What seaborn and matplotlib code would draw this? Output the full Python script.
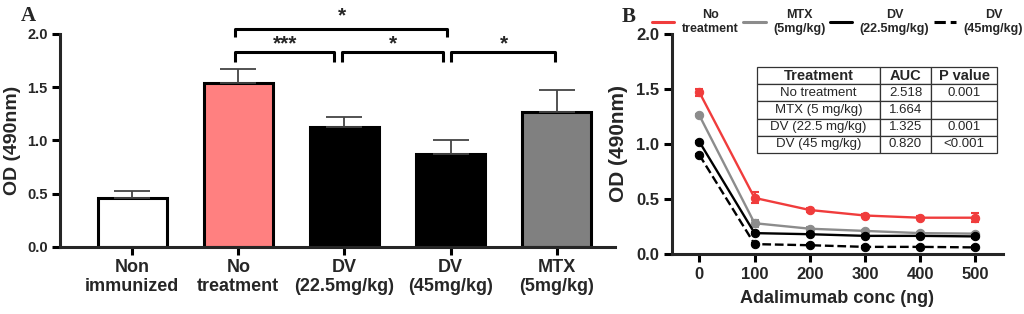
import numpy as np
import pandas as pd
import matplotlib
matplotlib.use("Agg")
import matplotlib.pyplot as plt
from matplotlib.lines import Line2D
import seaborn as sns

# Panel A: bar chart
groups = ["Non\nimmunized", "No\ntreatment", "DV\n(22.5mg/kg)", "DV\n(45mg/kg)", "MTX\n(5mg/kg)"]
bar_means = [0.46, 1.54, 1.13, 0.875, 1.27]
bar_err = [0.06, 0.13, 0.09, 0.125, 0.20]
bar_colors = ["#FFFFFF", "#FF8080", "#000000", "#000000", "#808080"]

# Panel B: concentration curves
conc = [0, 100, 200, 300, 400, 500]
series_names = ["No\ntreatment", "MTX\n(5mg/kg)", "DV\n(22.5mg/kg)", "DV\n(45mg/kg)"]
no_treat = [1.47, 0.51, 0.40, 0.35, 0.33, 0.33]
no_treat_err = [0.03, 0.05, 0.015, 0.015, 0.015, 0.04]
mtx = [1.26, 0.28, 0.23, 0.21, 0.19, 0.185]
mtx_err = [0.01, 0.03, 0.02, 0.01, 0.01, 0.01]
dv225 = [1.02, 0.19, 0.18, 0.165, 0.165, 0.16]
dv225_err = [0.01, 0.01, 0.01, 0.01, 0.01, 0.01]
dv45 = [0.90, 0.09, 0.08, 0.065, 0.065, 0.06]
dv45_err = [0.01, 0.01, 0.01, 0.01, 0.01, 0.01]
line_colors = ["#F03C3C", "#8C8C8C", "#000000", "#000000"]
line_styles = ["-", "-", "-", "--"]

# AUC table
tab_treat = ["No treatment", "MTX (5 mg/kg)", "DV (22.5 mg/kg)", "DV (45 mg/kg)"]
tab_auc = ["2.518", "1.664", "1.325", "0.820"]
tab_p = ["0.001", "", "0.001", "<0.001"]

sns.set_theme(style="ticks")
plt.rcParams["font.family"] = ["Liberation Sans", "DejaVu Sans"]

fig = plt.figure(figsize=(10.24, 3.14), dpi=100)
axA = fig.add_axes([0.0586, 0.214, 0.542, 0.678])
axB = fig.add_axes([0.656, 0.191, 0.3235, 0.701])

# ---- Panel A ----
df = pd.DataFrame({"grupo": groups, "od": bar_means})
sns.barplot(data=df, x="grupo", y="od", hue="grupo", palette=bar_colors, legend=False,
            saturation=1, edgecolor="black", linewidth=2.2, width=0.65, ax=axA)
xs = np.arange(len(groups))
axA.errorbar(xs, bar_means, yerr=[np.zeros(len(groups)), bar_err], fmt="none",
             ecolor="#444444", elinewidth=1.3, capsize=13, capthick=1.3, zorder=1)
axA.set_xlim(-0.68, 4.55)
axA.set_ylim(0, 2.0)
axA.set_yticks([0, 0.5, 1.0, 1.5, 2.0])
axA.set_yticklabels(["0.0", "0.5", "1.0", "1.5", "2.0"], fontsize=10.5, fontweight="bold")
axA.set_xticks(xs)
axA.set_xticklabels(groups, fontsize=13, fontweight="bold", linespacing=1.1)
axA.set_xlabel("")
axA.set_ylabel("OD (490nm)", fontsize=14, fontweight="bold", labelpad=4)
for s in ["left", "bottom"]:
    axA.spines[s].set_linewidth(2.2)
sns.despine(ax=axA)
axA.tick_params(axis="both", width=2.2, length=6, color="black", pad=3)

# significance brackets
def bracket(ax, x1, x2, y, h, txt, tx, ty):
    ax.plot([x1, x1, x2, x2], [y - h, y, y, y - h], color="black", lw=2.2,
            clip_on=False, solid_capstyle="butt")
    ax.text(tx, ty, txt, ha="center", va="center", fontsize=15, fontweight="bold")

bracket(axA, 0.97, 1.90, 1.83, 0.09, "***", 1.44, 1.91)
bracket(axA, 1.98, 2.93, 1.83, 0.09, "*", 2.46, 1.91)
bracket(axA, 3.00, 3.98, 1.83, 0.09, "*", 3.50, 1.91)
bracket(axA, 0.97, 2.97, 2.05, 0.08, "*", 1.98, 2.17)

# ---- Panel B ----
all_vals = [no_treat, mtx, dv225, dv45]
all_err = [no_treat_err, mtx_err, dv225_err, dv45_err]
for vals, err, c, ls in zip(all_vals, all_err, line_colors, line_styles):
    sns.lineplot(x=conc, y=vals, ax=axB, color=c, linestyle=ls, linewidth=1.7,
                 marker="o", markersize=6, markeredgecolor=c)
    axB.errorbar(conc, vals, yerr=err, fmt="none", ecolor=c, elinewidth=1.5,
                 capsize=3, capthick=1.5)
axB.set_xlim(-50, 550)
axB.set_ylim(0, 2.0)
axB.set_xticks(conc)
axB.set_xticklabels([str(c) for c in conc], fontsize=12, fontweight="bold")
axB.set_yticks([0, 0.5, 1.0, 1.5, 2.0])
axB.set_yticklabels(["0.0", "0.5", "1.0", "1.5", "2.0"], fontsize=12, fontweight="bold")
axB.set_xlabel("Adalimumab conc (ng)", fontsize=13, fontweight="bold", labelpad=6)
axB.set_ylabel("OD (490nm)", fontsize=15, fontweight="bold", labelpad=6)
for s in ["left", "bottom"]:
    axB.spines[s].set_linewidth(2.2)
sns.despine(ax=axB)
axB.tick_params(axis="both", width=2.2, length=6, color="black", pad=3)

cells = [[t, a, p] for t, a, p in zip(tab_treat, tab_auc, tab_p)]
tbl = axB.table(cellText=cells, colLabels=["Treatment", "AUC", "P value"],
                cellLoc="center", colWidths=[0.513, 0.2125, 0.275],
                bbox=[0.257, 0.459, 0.725, 0.391])
tbl.auto_set_font_size(False)
for (r, c), cell in tbl.get_celld().items():
    cell.set_linewidth(0.9)
    cell.set_edgecolor("#333333")
    cell.get_text().set_fontsize(9.5)
    if r == 0:
        cell.get_text().set_fontweight("bold")
        cell.get_text().set_fontsize(10.5)

handles = [Line2D([0], [0], color=c, linestyle=ls, lw=2.2) for c, ls in zip(line_colors, line_styles)]
leg = fig.legend(handles, series_names, loc="center", bbox_to_anchor=(0.818, 0.93), ncol=4,
                 frameon=False, prop={"size": 9, "weight": "bold"}, handlelength=1.8,
                 handletextpad=0.6, columnspacing=0.35, borderaxespad=0, borderpad=0.1)
for t in leg.get_texts():
    t.set_multialignment("center")

fig.text(0.02, 0.95, "A", fontsize=15, fontweight="bold", family="Liberation Serif", va="center")
fig.text(0.607, 0.945, "B", fontsize=15, fontweight="bold", family="Liberation Serif", va="center")

fig.savefig("out.png", dpi=100)
